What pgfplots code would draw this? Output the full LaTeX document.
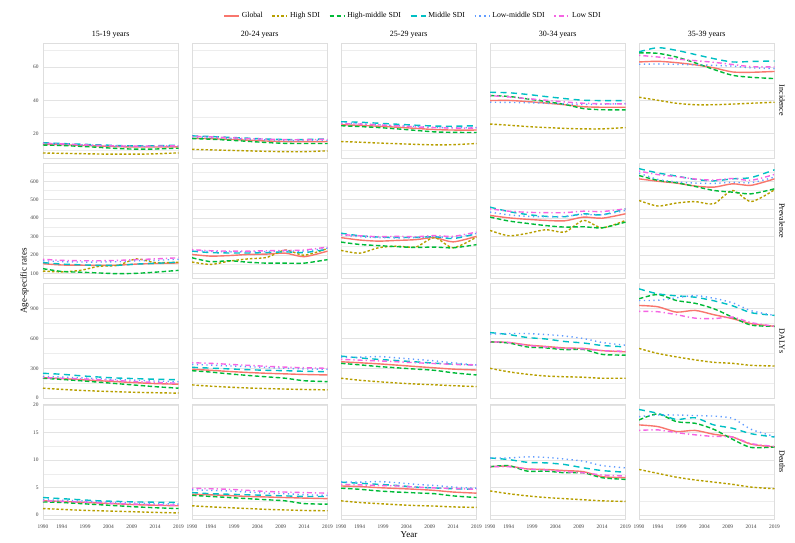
\documentclass[border=0pt]{standalone}
\usepackage{fontspec}
\setmainfont{Liberation Serif}
\usepackage{pgfplots}
\usepackage{pgfplotstable}
\pgfplotsset{compat=1.18}

\definecolor{cG}{HTML}{F8766D}
\definecolor{cH}{HTML}{B79F00}
\definecolor{cHM}{HTML}{00BA38}
\definecolor{cM}{HTML}{00BFC4}
\definecolor{cLM}{HTML}{619CFF}
\definecolor{cL}{HTML}{F564E3}

% ---------------- Incidence ----------------
\pgfplotstableread{
yr   G    H    HM   M    LM   L
1990 13.6 8.3  13.1 14.5 14.0 14.2
1994 13.3 8.1  12.8 14.0 13.6 13.8
1998 12.9 7.9  12.3 13.6 13.2 13.3
2002 12.5 7.7  11.7 13.2 12.8 12.9
2006 12.1 7.6  11.0 12.8 12.4 12.6
2010 11.9 7.6  10.6 12.6 12.2 12.4
2014 11.9 7.8  10.7 12.7 12.3 12.5
2019 12.0 8.4  11.2 13.0 12.5 12.6
}\incA
\pgfplotstableread{
yr   G    H    HM   M    LM   L
1990 17.2 10.5 17.0 18.6 18.0 18.4
1994 16.9 10.2 16.6 18.2 17.6 18.0
1998 16.5 9.9  16.0 17.7 17.1 17.5
2002 16.0 9.6  15.3 17.2 16.6 17.0
2006 15.5 9.3  14.6 16.7 16.1 16.6
2010 15.2 9.1  14.1 16.4 15.8 16.3
2014 15.1 9.1  14.0 16.4 15.8 16.3
2019 15.2 9.6  14.0 16.8 16.0 16.6
}\incB
\pgfplotstableread{
yr   G    H    HM   M    LM   L
1990 25.3 15.2 24.7 27.1 26.3 26.0
1994 24.9 14.8 24.2 26.8 25.9 25.7
1998 24.4 14.3 23.6 26.2 25.3 25.2
2002 23.8 13.9 22.8 25.6 24.8 24.6
2006 23.1 13.5 21.9 25.0 24.2 24.0
2010 22.4 13.2 21.0 24.5 23.7 23.5
2014 22.1 13.3 20.7 24.4 23.5 23.3
2019 22.1 14.0 20.6 24.7 23.6 23.3
}\incC
\pgfplotstableread{
yr   G    H    HM   M    LM   L
1990 39.8 25.7 42.8 44.8 38.8 42.8
1994 39.9 25.0 42.3 44.5 38.7 42.0
1998 39.2 24.2 40.8 43.5 38.5 41.0
2002 38.3 23.6 39.2 42.2 38.2 40.0
2006 37.3 23.1 37.5 41.0 37.8 39.0
2010 36.1 22.8 35.0 40.0 37.5 38.2
2014 35.8 22.8 34.3 39.8 37.6 37.9
2019 35.8 23.6 34.2 39.8 38.0 37.8
}\incD
\pgfplotstableread{
yr   G    H    HM   M    LM   L
1990 63.0 41.8 68.5 69.1 61.6 67.0
1994 63.4 40.0 68.2 71.6 61.8 66.0
1998 62.6 38.2 66.0 70.0 61.6 64.8
2002 61.3 37.3 62.5 67.5 61.3 63.8
2006 59.5 37.3 58.5 65.0 61.0 62.8
2010 57.0 37.7 55.0 63.0 60.5 61.5
2014 56.8 38.2 53.8 63.3 59.5 60.2
2019 57.3 38.8 53.0 63.6 59.0 60.0
}\incE

% ---------------- Prevalence ----------------
\pgfplotstableread{
yr   G   H   HM  M   LM  L
1990 154 114 127 160 170 178
1994 147 110 112 152 165 172
1998 146 118 108 148 163 170
2002 145 140 104 145 163 170
2006 146 145 100 145 165 172
2010 152 180 102 152 170 176
2014 155 160 108 156 172 180
2019 158 162 118 162 178 186
}\prvA
\pgfplotstableread{
yr   G   H   HM  M   LM  L
1990 204 163 186 222 226 230
1994 195 150 165 214 220 224
1998 198 168 170 212 218 222
2002 204 180 162 212 218 222
2006 206 188 157 214 220 224
2010 211 228 157 218 224 226
2014 192 200 157 214 222 228
2019 222 236 176 232 238 244
}\prvB
\pgfplotstableread{
yr   G   H   HM  M   LM  L
1990 295 226 271 319 310 312
1994 282 211 258 305 300 305
1998 276 240 252 298 295 300
2002 280 249 246 296 294 302
2006 284 244 242 296 295 300
2010 295 295 244 300 300 306
2014 272 240 240 290 296 302
2019 302 298 257 316 318 325
}\prvC
\pgfplotstableread{
yr   G   H   HM  M   LM  L
1990 415 334 406 460 433 451
1994 402 305 385 436 418 438
1998 394 318 372 420 410 432
2002 388 338 360 410 408 430
2006 386 325 352 408 410 430
2010 406 388 354 424 420 438
2014 400 348 348 418 418 436
2019 424 388 379 451 442 451
}\prvD
\pgfplotstableread{
yr   G   H   HM  M   LM  L
1990 613 496 631 668 644 655
1994 600 466 605 645 610 636
1998 590 482 592 628 596 625
2002 574 490 572 610 590 612
2006 568 478 550 602 588 606
2010 586 550 541 613 595 615
2014 578 490 532 620 592 605
2019 613 554 559 662 622 637
}\prvE

% ---------------- DALYs ----------------
\pgfplotstableread{
yr   G   H   HM  M   LM  L
1990 206 100 200 250 220 206
1994 196 88  188 240 212 200
1998 186 78  175 225 204 194
2002 175 70  160 212 196 186
2006 165 64  145 202 186 176
2010 155 58  130 196 180 166
2014 146 54  115 190 172 158
2019 140 50  100 185 165 150
}\dlyA
\pgfplotstableread{
yr   G   H   HM  M   LM  L
1990 290 133 276 310 340 356
1994 280 120 262 302 332 350
1998 268 110 244 294 324 340
2002 258 102 228 286 316 330
2006 250 96  214 280 308 320
2010 244 91  200 276 300 312
2014 238 87  175 270 294 306
2019 233 83  166 266 290 300
}\dlyB
\pgfplotstableread{
yr   G   H   HM  M   LM  L
1990 366 200 350 423 410 390
1994 356 180 335 405 412 382
1998 345 165 318 390 418 375
2002 332 152 305 378 405 366
2006 318 142 292 365 390 356
2010 305 134 280 352 375 348
2014 292 125 255 342 355 340
2019 283 116 233 333 333 333
}\dlyC
\pgfplotstableread{
yr   G   H   HM  M   LM  L
1990 566 300 566 660 645 566
1994 560 265 555 640 650 560
1998 535 240 515 610 650 530
2002 520 222 505 595 640 515
2006 505 215 488 570 625 500
2010 500 210 490 555 600 495
2014 478 200 440 530 560 478
2019 466 200 433 516 533 471
}\dlyD
\pgfplotstableread{
yr   G   H   HM   M    LM   L
1990 933 500 1000 1100 983  873
1994 920 450 1043 1050 985  870
1998 866 415 983  1030 1010 840
2002 883 385 955  1016 1033 805
2006 840 360 900  980  1005 800
2010 800 350 815  930  960  816
2014 750 330 735  860  880  760
2019 723 323 723  833  833  723
}\dlyE

% ---------------- Deaths ----------------
\pgfplotstableread{
yr   G    H    HM   M    LM   L
1990 2.6  1.2  2.4  3.2  2.8  2.6
1994 2.5  1.05 2.3  3.0  2.7  2.5
1998 2.35 0.9  2.1  2.8  2.6  2.4
2002 2.2  0.8  1.9  2.6  2.45 2.25
2006 2.05 0.7  1.7  2.5  2.3  2.1
2010 1.9  0.6  1.5  2.4  2.2  2.0
2014 1.8  0.5  1.35 2.35 2.1  1.9
2019 1.7  0.4  1.2  2.3  2.0  1.8
}\dthA
\pgfplotstableread{
yr   G    H    HM   M    LM   L
1990 3.8  1.7  3.6  4.1  4.6  4.9
1994 3.7  1.5  3.4  3.9  4.5  4.8
1998 3.55 1.35 3.2  3.8  4.4  4.7
2002 3.4  1.2  3.0  3.7  4.2  4.5
2006 3.3  1.05 2.8  3.6  4.0  4.3
2010 3.2  0.95 2.6  3.5  3.9  4.2
2014 3.1  0.85 2.1  3.4  3.7  4.1
2019 3.0  0.8  2.0  3.4  3.6  4.0
}\dthB
\pgfplotstableread{
yr   G    H    HM   M    LM   L
1990 5.3  2.6  4.9  6.0  6.0  5.6
1994 5.2  2.3  4.7  5.8  6.0  5.5
1998 5.0  2.1  4.4  5.6  6.1  5.4
2002 4.85 1.9  4.2  5.4  5.9  5.3
2006 4.7  1.75 4.05 5.1  5.6  5.1
2010 4.5  1.65 3.9  4.95 5.4  4.95
2014 4.2  1.5  3.5  4.8  5.1  4.85
2019 4.0  1.4  3.2  4.7  4.9  4.7
}\dthC
\pgfplotstableread{
yr   G   H   HM  M    LM   L
1990 8.8 4.4 8.8 10.4 10.4 8.8
1994 8.9 3.9 9.0 10.1 10.4 8.8
1998 8.4 3.5 8.0 9.6  10.6 8.4
2002 8.3 3.2 8.0 9.5  10.5 8.2
2006 8.1 3.0 7.7 9.2  10.2 7.9
2010 7.9 2.8 7.7 8.6  9.8  7.7
2014 7.0 2.6 6.8 8.1  9.0  7.3
2019 6.8 2.5 6.5 7.8  8.6  7.1
}\dthD
\pgfplotstableread{
yr   G    H   HM   M    LM   L
1990 16.4 8.3 17.3 19.2 17.9 15.4
1994 16.1 7.6 18.4 18.5 18.2 15.5
1998 15.2 6.9 17.0 17.4 18.2 15.0
2002 15.4 6.4 16.7 17.7 18.1 14.6
2006 14.7 6.0 15.6 16.4 18.0 14.3
2010 14.2 5.6 13.8 15.8 17.6 14.2
2014 12.9 5.1 12.3 14.8 15.6 13.0
2019 12.4 4.8 12.4 14.2 14.3 12.5
}\dthE

\pgfplotsset{
  legend image code/.code={\draw[#1] (0pt,0pt) -- (15pt,0pt);},
  sG/.style={cG, line width=1.4pt, solid},
  sH/.style={cH, line width=1.4pt, dash pattern=on 2.5pt off 2pt},
  sHM/.style={cHM, line width=1.4pt, dash pattern=on 4.5pt off 2.5pt},
  sM/.style={cM, line width=1.4pt, dash pattern=on 6pt off 4.5pt},
  sLM/.style={cLM, line width=1.4pt, dash pattern=on 1.3pt off 3.5pt},
  sL/.style={cL, line width=1.4pt, dash pattern=on 1.3pt off 3pt on 5pt off 3pt},
  panel/.style={
    scale only axis, width=135.5pt, height=115pt, anchor=north west,
    xmin=1990, xmax=2019,
    xtick={1990,1994,1999,2004,2009,2014,2019},
    ymajorgrids, yminorgrids,
    major grid style={draw=black!11, line width=0.6pt},
    minor grid style={draw=black!7, line width=0.45pt},
    axis line style={draw=black!13, line width=0.6pt},
    major tick length=0pt, minor tick length=0pt,
    tick label style={font=\fontsize{5.4}{6}\selectfont, text=black!75},
    xticklabel shift=2.5pt, yticklabel shift=1pt,
    every axis plot/.append style={smooth, tension=0.45},
    /pgf/number format/assume math mode=true,
    /pgf/number format/1000 sep={},
  },
  noxlab/.style={xticklabels={}},
  noylab/.style={yticklabels={}},
  incrow/.style={ymin=5.3, ymax=74.4, ytick={20,40,60}, minor ytick={10,30,50,70}},
  prvrow/.style={ymin=75, ymax=697, ytick={100,200,...,600}, minor ytick={150,250,...,650}},
  dlyrow/.style={ymin=-5, ymax=1153, ytick={0,300,600,900}, minor ytick={150,450,750,1050}},
  dthrow/.style={ymin=-0.7, ymax=20.2, ytick={0,5,10,15,20}, minor ytick={2.5,7.5,12.5,17.5}},
}

% one facet: table, left edge, top edge, extra axis options
\newcommand{\panel}[4]{%
  \begin{axis}[panel, at={(#2pt,-#3pt)}, #4]
    \addplot[sG]  table[x=yr, y=G]  {#1};
    \addplot[sH]  table[x=yr, y=H]  {#1};
    \addplot[sHM] table[x=yr, y=HM] {#1};
    \addplot[sM]  table[x=yr, y=M]  {#1};
    \addplot[sLM] table[x=yr, y=LM] {#1};
    \addplot[sL]  table[x=yr, y=L]  {#1};
  \end{axis}}

\newcommand{\stripfont}{\fontsize{8}{9.6}\selectfont}

\begin{document}
\begin{tikzpicture}
\path[use as bounding box] (0pt,0pt) rectangle (795pt,-543pt);

% Incidence
\panel{\incA}{43}{43}{incrow, noxlab,
  legend entries={Global,High SDI,High-middle SDI,Middle SDI,Low-middle SDI,Low SDI},
  legend style={at={(2.7306,1.2348)}, anchor=center, draw=none, fill=none,
    legend columns=6, font=\fontsize{7.7}{9}\selectfont, inner sep=0pt,
    /tikz/every even column/.append style={column sep=7pt}}}
\panel{\incB}{192}{43}{incrow, noxlab, noylab}
\panel{\incC}{341}{43}{incrow, noxlab, noylab}
\panel{\incD}{490}{43}{incrow, noxlab, noylab}
\panel{\incE}{639}{43}{incrow, noxlab, noylab}
% Prevalence
\panel{\prvA}{43}{163.3}{prvrow, noxlab}
\panel{\prvB}{192}{163.3}{prvrow, noxlab, noylab}
\panel{\prvC}{341}{163.3}{prvrow, noxlab, noylab}
\panel{\prvD}{490}{163.3}{prvrow, noxlab, noylab}
\panel{\prvE}{639}{163.3}{prvrow, noxlab, noylab}
% DALYs
\panel{\dlyA}{43}{283.6}{dlyrow, noxlab}
\panel{\dlyB}{192}{283.6}{dlyrow, noxlab, noylab}
\panel{\dlyC}{341}{283.6}{dlyrow, noxlab, noylab}
\panel{\dlyD}{490}{283.6}{dlyrow, noxlab, noylab}
\panel{\dlyE}{639}{283.6}{dlyrow, noxlab, noylab}
% Deaths
\panel{\dthA}{43}{404}{dthrow}
\panel{\dthB}{192}{404}{dthrow, noylab}
\panel{\dthC}{341}{404}{dthrow, noylab}
\panel{\dthD}{490}{404}{dthrow, noylab}
\panel{\dthE}{639}{404}{dthrow, noylab}

% column strips
\node[font=\stripfont] at (110.75pt,-35pt) {15-19 years};
\node[font=\stripfont] at (259.75pt,-35pt) {20-24 years};
\node[font=\stripfont] at (408.75pt,-35pt) {25-29 years};
\node[font=\stripfont] at (557.75pt,-35pt) {30-34 years};
\node[font=\stripfont] at (706.75pt,-35pt) {35-39 years};
% row strips
\node[font=\stripfont, rotate=-90] at (782pt,-100.5pt) {Incidence};
\node[font=\stripfont, rotate=-90] at (782pt,-220.8pt) {Prevalence};
\node[font=\stripfont, rotate=-90] at (782pt,-341.1pt) {DALYs};
\node[font=\stripfont, rotate=-90] at (782pt,-461.5pt) {Deaths};
% axis titles
\node[font=\fontsize{9}{11}\selectfont, rotate=90] at (24.5pt,-281pt) {Age-specific rates};
\node[font=\fontsize{9}{11}\selectfont] at (409pt,-535pt) {Year};
\end{tikzpicture}
\end{document}
